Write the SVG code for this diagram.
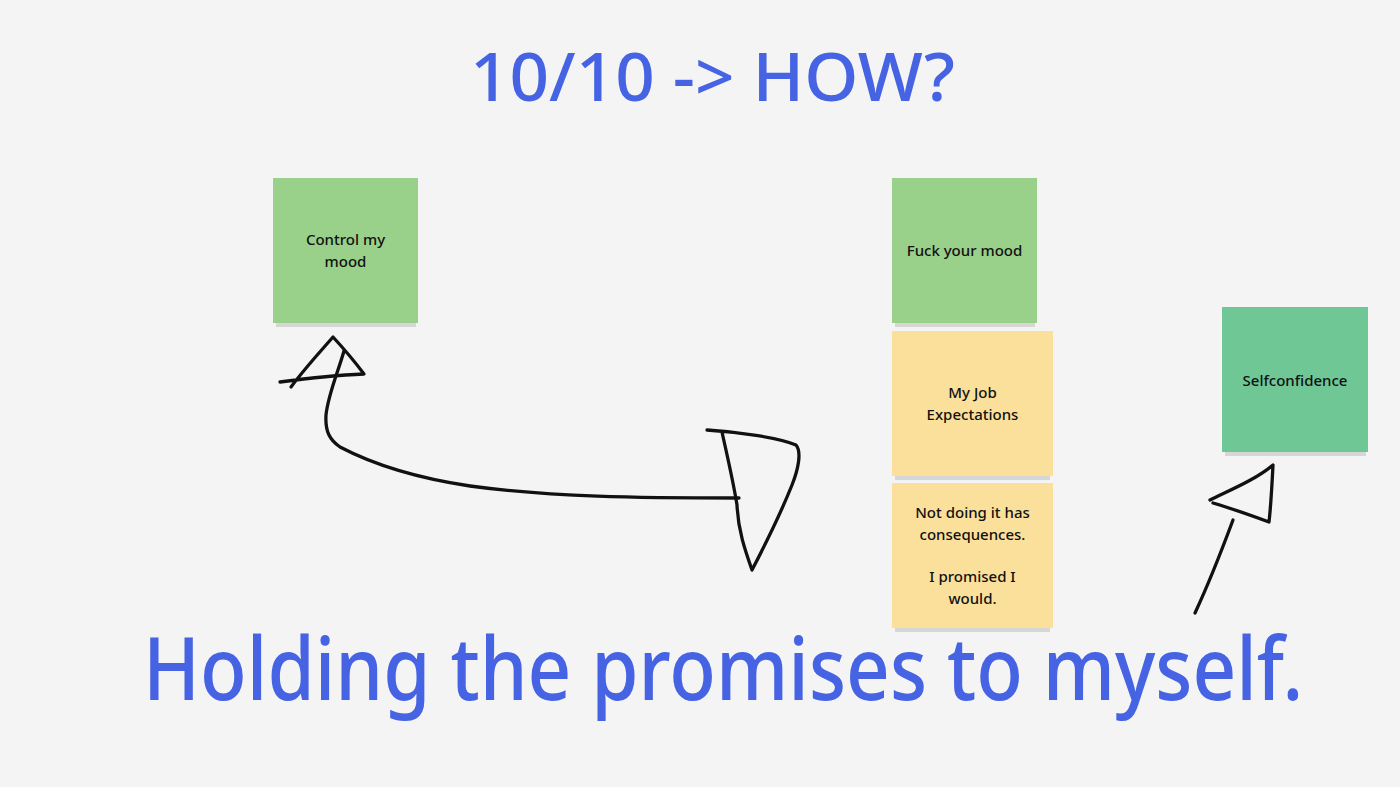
<svg xmlns="http://www.w3.org/2000/svg" width="1400" height="787" viewBox="0 0 1400 787">
<style>
.title{font-family:"Noto Sans","Liberation Sans",sans-serif;fill:#4563e3;font-weight:500}
.lbl{font-family:"Noto Sans","Liberation Sans",sans-serif;font-size:15px;font-weight:500;fill:#111;text-anchor:middle}
.shadow{fill:#d6d6d6}
.green{fill:#99d08a}
.teal{fill:#6fc796}
.yellow{fill:#fbe09c}
.ink{fill:none;stroke:#111;stroke-width:3.3;stroke-linecap:round;stroke-linejoin:round}
</style>
<rect x="0" y="0" width="1400" height="787" fill="#f4f4f4"/>
<text class="title" x="470" y="101" font-size="68" textLength="485" lengthAdjust="spacingAndGlyphs">10/10 -&gt; HOW?</text>
<text class="title" transform="translate(143 700) scale(0.868 1)" x="0" y="0" font-size="88">Holding the promises to myself.</text>

<g id="node-control">
<rect class="shadow" x="276" y="322" width="140" height="5"/>
<rect class="green" x="273" y="178" width="145" height="145"/>
<text class="lbl" x="345.5" y="245">Control my<tspan x="345.5" dy="22">mood</tspan></text>
</g>
<g id="node-fuck">
<rect class="shadow" x="895" y="322" width="140" height="5"/>
<rect class="green" x="892" y="178" width="145" height="145"/>
<text class="lbl" x="964.5" y="256">Fuck your mood</text>
</g>
<g id="node-job">
<rect class="shadow" x="895" y="475" width="155" height="5"/>
<rect class="yellow" x="892" y="331" width="161" height="145"/>
<text class="lbl" x="972.5" y="398">My Job<tspan x="972.5" dy="22">Expectations</tspan></text>
</g>
<g id="node-notdoing">
<rect class="shadow" x="895" y="627" width="155" height="5"/>
<rect class="yellow" x="892" y="483" width="161" height="145"/>
<text class="lbl" x="972.5" y="518">Not doing it has<tspan x="972.5" dy="22">consequences.</tspan><tspan x="972.5" dy="42">I promised I</tspan><tspan x="972.5" dy="22">would.</tspan></text>
</g>
<g id="node-self">
<rect class="shadow" x="1225" y="451" width="141" height="5"/>
<rect class="teal" x="1222" y="307" width="146" height="145"/>
<text class="lbl" x="1295" y="386">Selfconfidence</text>
</g>

<g id="connectors">
<path class="ink" d="M344 351 C338 372 328 395 326 415 C325 432 330 440 340 447 C380 468 430 480 470 486 C550 497 640 498 739 498"/>
<path class="ink" d="M291 387 C305 368 320 352 333 337 C345 350 355 362 364 374 C340 375 310 378 280 382"/>
<path class="ink" d="M707 430 C740 432 780 438 796 445 C802 452 798 470 792 485 C780 515 765 545 752 570 C745 550 738 530 737 505 C733 480 727 455 722 432"/>
<path class="ink" d="M1195 613 C1208 585 1220 555 1233 520"/>
<path class="ink" d="M1210 500 C1230 490 1255 480 1273 465 C1272 485 1271 505 1269 522 C1250 515 1230 508 1213 503"/>
</g>
</svg>
